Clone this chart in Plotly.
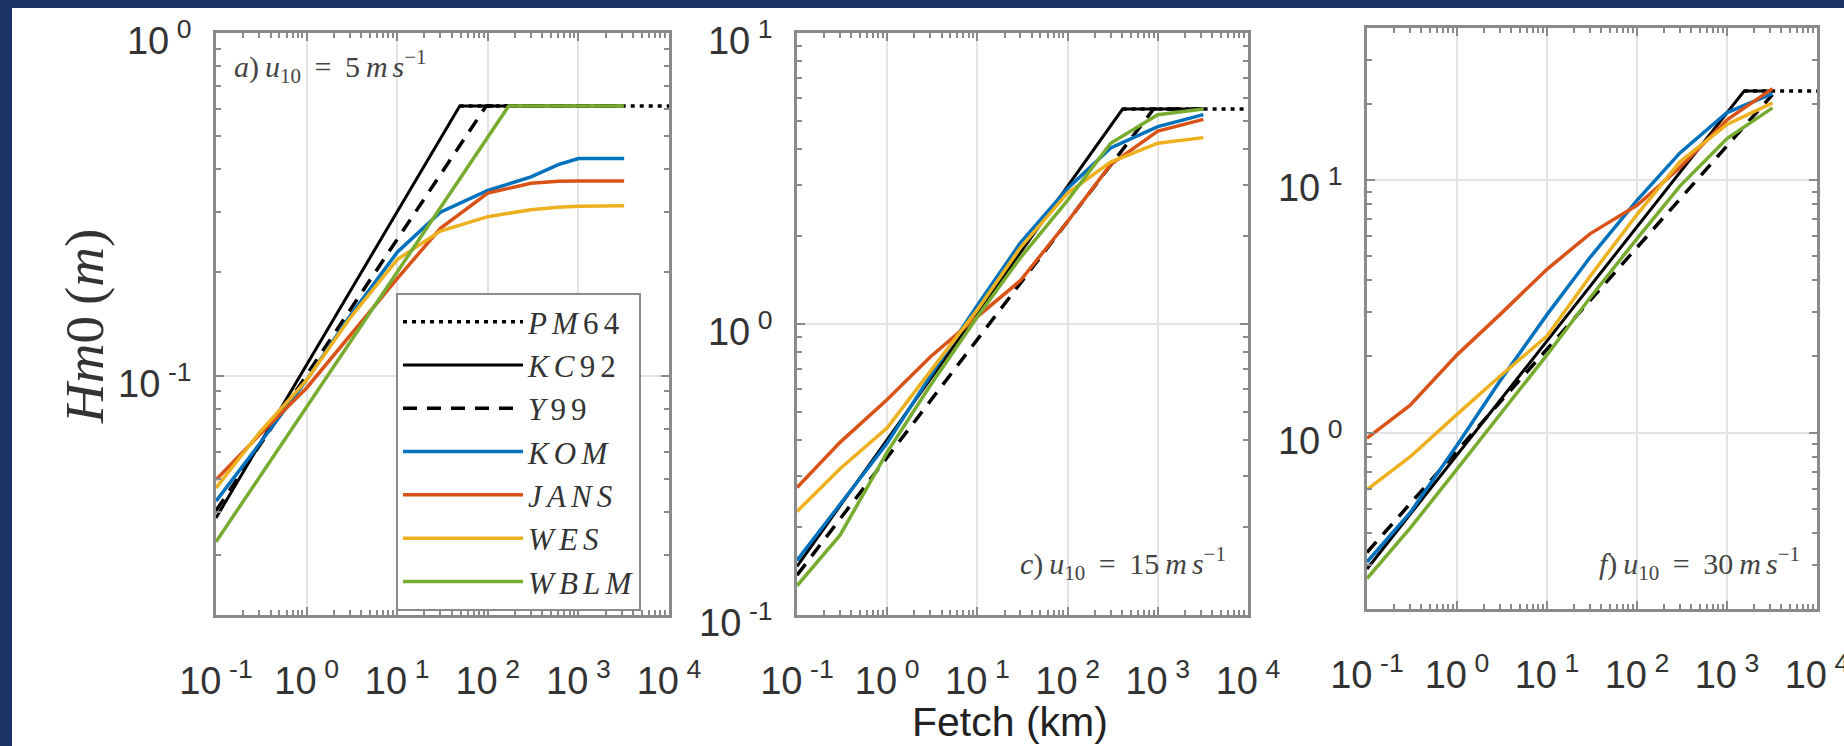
import plotly.graph_objects as go

W, H = 1844, 746

# ---------------- data (fetch in km, Hm0 in m) ----------------
models = ["PM64", "KC92", "Y99", "KOM", "JANS", "WES", "WBLM"]
S = "\u2006"  # small letter spacing, LaTeX-like
L = "\u2006"  # legend letter spacing
legend_names = [f"<i>P{L}M</i>{L}6{L}4", f"<i>K{L}C</i>{L}9{L}2", f"<i>Y</i>{L}9{L}9",
                f"<i>K{L}O{L}M</i>", f"<i>J{L}A{L}N{L}S</i>", f"<i>W{L}E{L}S</i>",
                f"<i>W{L}B{L}L{L}M</i>"]

grid_a = [0.1, 0.3, 1, 3, 10, 30, 100, 300, 600, 1000, 3200]
grid = [0.1, 0.3, 1, 3, 10, 30, 100, 300, 1000, 3200]

# panel a) u10 = 5 m/s
a_pm64_fetch = [49, 10000]
a_pm64_hm0 = [0.612, 0.612]
a_kc92_fetch = [0.1, 49, 3200]
a_kc92_hm0 = [0.0384, 0.612, 0.612]
a_y99_fetch = [0.1, 96, 3200]
a_y99_hm0 = [0.0403, 0.612, 0.612]
a_kom_hm0 = [0.043, 0.063, 0.097, 0.149, 0.229, 0.30, 0.347, 0.38, 0.413, 0.43, 0.43]
a_jans_hm0 = [0.0496, 0.067, 0.092, 0.131, 0.192, 0.269, 0.341, 0.364, 0.369, 0.37, 0.37]
a_wes_hm0 = [0.047, 0.068, 0.097, 0.147, 0.218, 0.264, 0.291, 0.305, 0.31, 0.312, 0.313]
a_wblm_fetch = [0.1, 170, 3200]
a_wblm_hm0 = [0.0327, 0.612, 0.612]

# panel c) u10 = 15 m/s
c_pm64_fetch = [407, 10000]
c_pm64_hm0 = [5.48, 5.48]
c_kc92_fetch = [0.1, 407, 3200]
c_kc92_hm0 = [0.147, 5.48, 5.48]
c_y99_fetch = [0.1, 900, 3200]
c_y99_hm0 = [0.137, 5.48, 5.48]
c_kom_hm0 = [0.154, 0.24, 0.39, 0.662, 1.16, 1.90, 2.92, 4.03, 4.77, 5.24]
c_jans_hm0 = [0.274, 0.392, 0.55, 0.77, 1.06, 1.41, 2.25, 3.53, 4.6, 5.05]
c_wes_hm0 = [0.227, 0.318, 0.44, 0.689, 1.12, 1.83, 2.82, 3.6, 4.18, 4.37]
c_wblm_hm0 = [0.126, 0.188, 0.363, 0.615, 1.06, 1.69, 2.66, 4.18, 5.24, 5.48]

# panel f) u10 = 30 m/s
f_pm64_fetch = [1550, 10000]
f_pm64_hm0 = [22.5, 22.5]
f_kc92_fetch = [0.1, 1550, 3200]
f_kc92_hm0 = [0.288, 22.5, 22.5]
f_y99_fetch = [0.1, 3200]
f_y99_hm0 = [0.335, 21.8]
f_kom_hm0 = [0.307, 0.48, 0.89, 1.60, 2.93, 4.93, 8.3, 12.8, 18.5, 22.0]
f_jans_hm0 = [0.95, 1.28, 2.03, 2.93, 4.43, 6.12, 7.94, 11.2, 17.3, 23.0]
f_wes_hm0 = [0.594, 0.80, 1.18, 1.67, 2.41, 4.15, 7.3, 11.8, 16.6, 20.2]
f_wblm_hm0 = [0.264, 0.417, 0.716, 1.18, 2.03, 3.41, 5.86, 9.46, 14.6, 19.3]

x_tickvals = [0.1, 1, 10, 100, 1000, 10000]
x_ticktext = ["10\u2009<sup>-1</sup>", "10\u2009<sup>0</sup>", "10\u2009<sup>1</sup>",
              "10\u2009<sup>2</sup>", "10\u2009<sup>3</sup>", "10\u2009<sup>4</sup>"]
y_tickvals = [0.1, 1, 10]
y_ticktext = ["10\u2009<sup>-1</sup>", "10\u2009<sup>0</sup>", "10\u2009<sup>1</sup>"]
y_ranges = [[-1.699, 0.0], [-1.0, 1.0], [-0.699, 1.602]]
T = "\u2009"
panel_labels = [f"<i>a</i>){T}<i>u</i><sub>10</sub>{T} ={T} 5{T}<i>m{S}s</i><sup>\u22121</sup>",
                f"<i>c</i>){T}<i>u</i><sub>10</sub>{T} ={T} 15{T}<i>m{S}s</i><sup>\u22121</sup>",
                f"<i>f</i>){T}<i>u</i><sub>10</sub>{T} ={T} 30{T}<i>m{S}s</i><sup>\u22121</sup>"]

panels = [
    [(a_pm64_fetch, a_pm64_hm0), (a_kc92_fetch, a_kc92_hm0), (a_y99_fetch, a_y99_hm0),
     (grid_a, a_kom_hm0), (grid_a, a_jans_hm0), (grid_a, a_wes_hm0), (a_wblm_fetch, a_wblm_hm0)],
    [(c_pm64_fetch, c_pm64_hm0), (c_kc92_fetch, c_kc92_hm0), (c_y99_fetch, c_y99_hm0),
     (grid, c_kom_hm0), (grid, c_jans_hm0), (grid, c_wes_hm0), (grid, c_wblm_hm0)],
    [(f_pm64_fetch, f_pm64_hm0), (f_kc92_fetch, f_kc92_hm0), (f_y99_fetch, f_y99_hm0),
     (grid, f_kom_hm0), (grid, f_jans_hm0), (grid, f_wes_hm0), (grid, f_wblm_hm0)],
]

# ---------------- styles ----------------
colors = ["#000000", "#000000", "#000000", "#0072BD", "#D95319", "#EDB120", "#77AC30"]
dashes = ["4px,5px", "solid", "14px,10px", "solid", "solid", "solid", "solid"]
widths = [3.5, 3, 3.5, 3.5, 3.5, 3.5, 3.5]

# pixel boxes of the three axes (left, right, top, bottom)
boxes = [(216, 669, 33, 615), (797, 1248, 33, 615), (1367, 1817, 28, 609)]

fig = go.Figure()
for p, series in enumerate(panels):
    xa = "x" if p == 0 else f"x{p+1}"
    ya = "y" if p == 0 else f"y{p+1}"
    for i, (fx, hy) in enumerate(series):
        fig.add_trace(go.Scatter(
            x=fx, y=hy, mode="lines", xaxis=xa, yaxis=ya,
            name=legend_names[i], legendgroup=models[i], showlegend=(p == 0),
            line=dict(color=colors[i], width=widths[i], dash=dashes[i]),
        ))

minor_x = [m * 10 ** e for e in range(-1, 4) for m in range(2, 10)]
minor_y = [m * 10 ** e for e in range(-2, 2) for m in range(2, 10)]

tickfont = dict(family="Liberation Sans, Arial, sans-serif", size=38, color="#333333")
axis_common = dict(
    type="log", showgrid=True, gridcolor="#e3e3e3", gridwidth=2,
    showline=True, linecolor="#8a8a8a", linewidth=2.5, mirror="allticks",
    ticks="inside", ticklen=8, tickwidth=2, tickcolor="#8a8a8a",
    zeroline=False, tickfont=tickfont, tickmode="array", automargin=False,
    ticklabeloverflow="allow",
)

layout = dict(
    width=W, height=H, margin=dict(l=0, r=0, t=0, b=0, autoexpand=False),
    paper_bgcolor="white", plot_bgcolor="white",
    showlegend=True,
    legend=dict(
        x=396 / W, y=1 - 293 / H, xanchor="left", yanchor="top",
        bgcolor="white", bordercolor="#8a8a8a", borderwidth=2,
        font=dict(family="Liberation Serif, Times New Roman, serif", size=31, color="#333333"),
        itemwidth=120, tracegroupgap=0,
    ),
)

for p, (l, r, t, b) in enumerate(boxes):
    xk = "xaxis" if p == 0 else f"xaxis{p+1}"
    yk = "yaxis" if p == 0 else f"yaxis{p+1}"
    xa = "x" if p == 0 else f"x{p+1}"
    ya = "y" if p == 0 else f"y{p+1}"
    layout[xk] = dict(
        axis_common, domain=[l / W, r / W], anchor=ya, range=[-1, 4],
        tickvals=x_tickvals, ticktext=x_ticktext, ticklabelstandoff=31,
        minor=dict(tickmode="array", tickvals=minor_x, ticks="inside", ticklen=5,
                   tickwidth=1.5, tickcolor="#8a8a8a", showgrid=False),
    )
    layout[yk] = dict(
        axis_common, domain=[1 - b / H, 1 - t / H], anchor=xa, range=y_ranges[p],
        tickvals=y_tickvals, ticktext=y_ticktext, ticklabelstandoff=14,
        ticklabelshift=8,
        minor=dict(tickmode="array", tickvals=minor_y, ticks="inside", ticklen=5,
                   tickwidth=1.5, tickcolor="#8a8a8a", showgrid=False),
    )

fig.update_layout(**layout)

# navy frame strips (top and left edges of the page)
navy = "#1b3366"
fig.add_shape(type="rect", xref="paper", yref="paper", x0=0, x1=1, y0=1 - 8 / H, y1=1,
              fillcolor=navy, line=dict(width=0), layer="above")
fig.add_shape(type="rect", xref="paper", yref="paper", x0=0, x1=12 / W, y0=0, y1=1,
              fillcolor=navy, line=dict(width=0), layer="above")

serif = "Liberation Serif, Times New Roman, serif"
annots = [
    dict(text=panel_labels[0], x=232 / W, y=1 - 66 / H, xanchor="left", yanchor="middle"),
    dict(text=panel_labels[1], x=1228 / W, y=1 - 563 / H, xanchor="right", yanchor="middle"),
    dict(text=panel_labels[2], x=1802 / W, y=1 - 563 / H, xanchor="right", yanchor="middle"),
]
for a in annots:
    fig.add_annotation(xref="paper", yref="paper", showarrow=False,
                       font=dict(family=serif, size=30, color="#444444"), **a)

fig.add_annotation(xref="paper", yref="paper", showarrow=False,
                   text=f"<i>Hm</i>0{T}(<i>m</i>)", textangle=-90,
                   x=85 / W, y=1 - 327 / H, xanchor="center", yanchor="middle",
                   font=dict(family=serif, size=55, color="#333333"))
fig.add_annotation(xref="paper", yref="paper", showarrow=False,
                   text="Fetch (km)", x=1010 / W, y=0, borderpad=0,
                   xanchor="center", yanchor="bottom",
                   font=dict(family="Liberation Sans, Arial, sans-serif", size=41, color="#222222"))

fig.write_html("out.html")
